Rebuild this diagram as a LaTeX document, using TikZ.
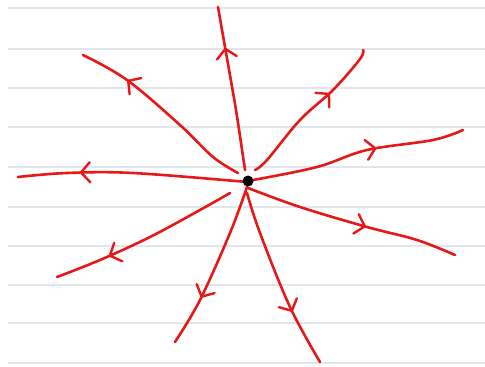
\documentclass[tikz,border=0pt]{standalone}
\usetikzlibrary{decorations.markings,arrows.meta}
\definecolor{pen}{RGB}{230,24,24}
\definecolor{rule}{RGB}{224,230,236}
\begin{document}
\begin{tikzpicture}[x=1pt,y=-1pt,
  paper/.style={draw=rule,line width=1.6pt},
  ink/.style={draw=pen,line width=2.6pt,line cap=round,line join=round},
  flow/.style={ink,postaction={decorate},
    decoration={markings,mark=at position #1 with {\arrow[pen,line width=2.4pt]{Straight Barb[length=9pt,width=20pt,line cap=round,line join=round]}}}}]
\useasboundingbox[fill=white] (0,0) rectangle (485,367);
% ruled paper
\foreach \y in {8,49,88,127,167,207,246,285,323,363}
  \draw[paper] (8,\y) -- (485,\y);
% field lines
\draw[flow=0.75] plot[smooth] coordinates {(245,170) (236,110) (225,47) (218,7)};
\draw[flow=0.74] plot[smooth,tension=0.6] coordinates {(238,173) (213,157) (180,125) (127,80) (83,55)};
\draw[flow=0.66] plot[smooth,tension=0.6] coordinates {(255,170) (267,160) (300,120) (333,90) (360,59) (363,50)};
\draw[flow=0.59] plot[smooth,tension=0.6] coordinates {(253,180) (317,167) (367,150) (433,140) (463,130)};
\draw[flow=0.73] plot[smooth,tension=0.6] coordinates {(247,182) (133,173) (67,173) (18,177)};
\draw[flow=0.57] plot[smooth,tension=0.6] coordinates {(248,188) (300,207) (367,227) (417,240) (455,255)};
\draw[flow=0.71] plot[smooth,tension=0.6] coordinates {(230,193) (200,210) (150,237) (100,260) (57,277)};
\draw[flow=0.70] plot[smooth,tension=0.6] coordinates {(247,187) (230,233) (200,300) (175,342)};
\draw[flow=0.69] plot[smooth,tension=0.6] coordinates {(247,193) (260,233) (290,307) (320,362)};
% source point
\node[circle,fill=black,inner sep=0pt,minimum size=11pt] (c) at (248,181) {};
\end{tikzpicture}
\end{document}
